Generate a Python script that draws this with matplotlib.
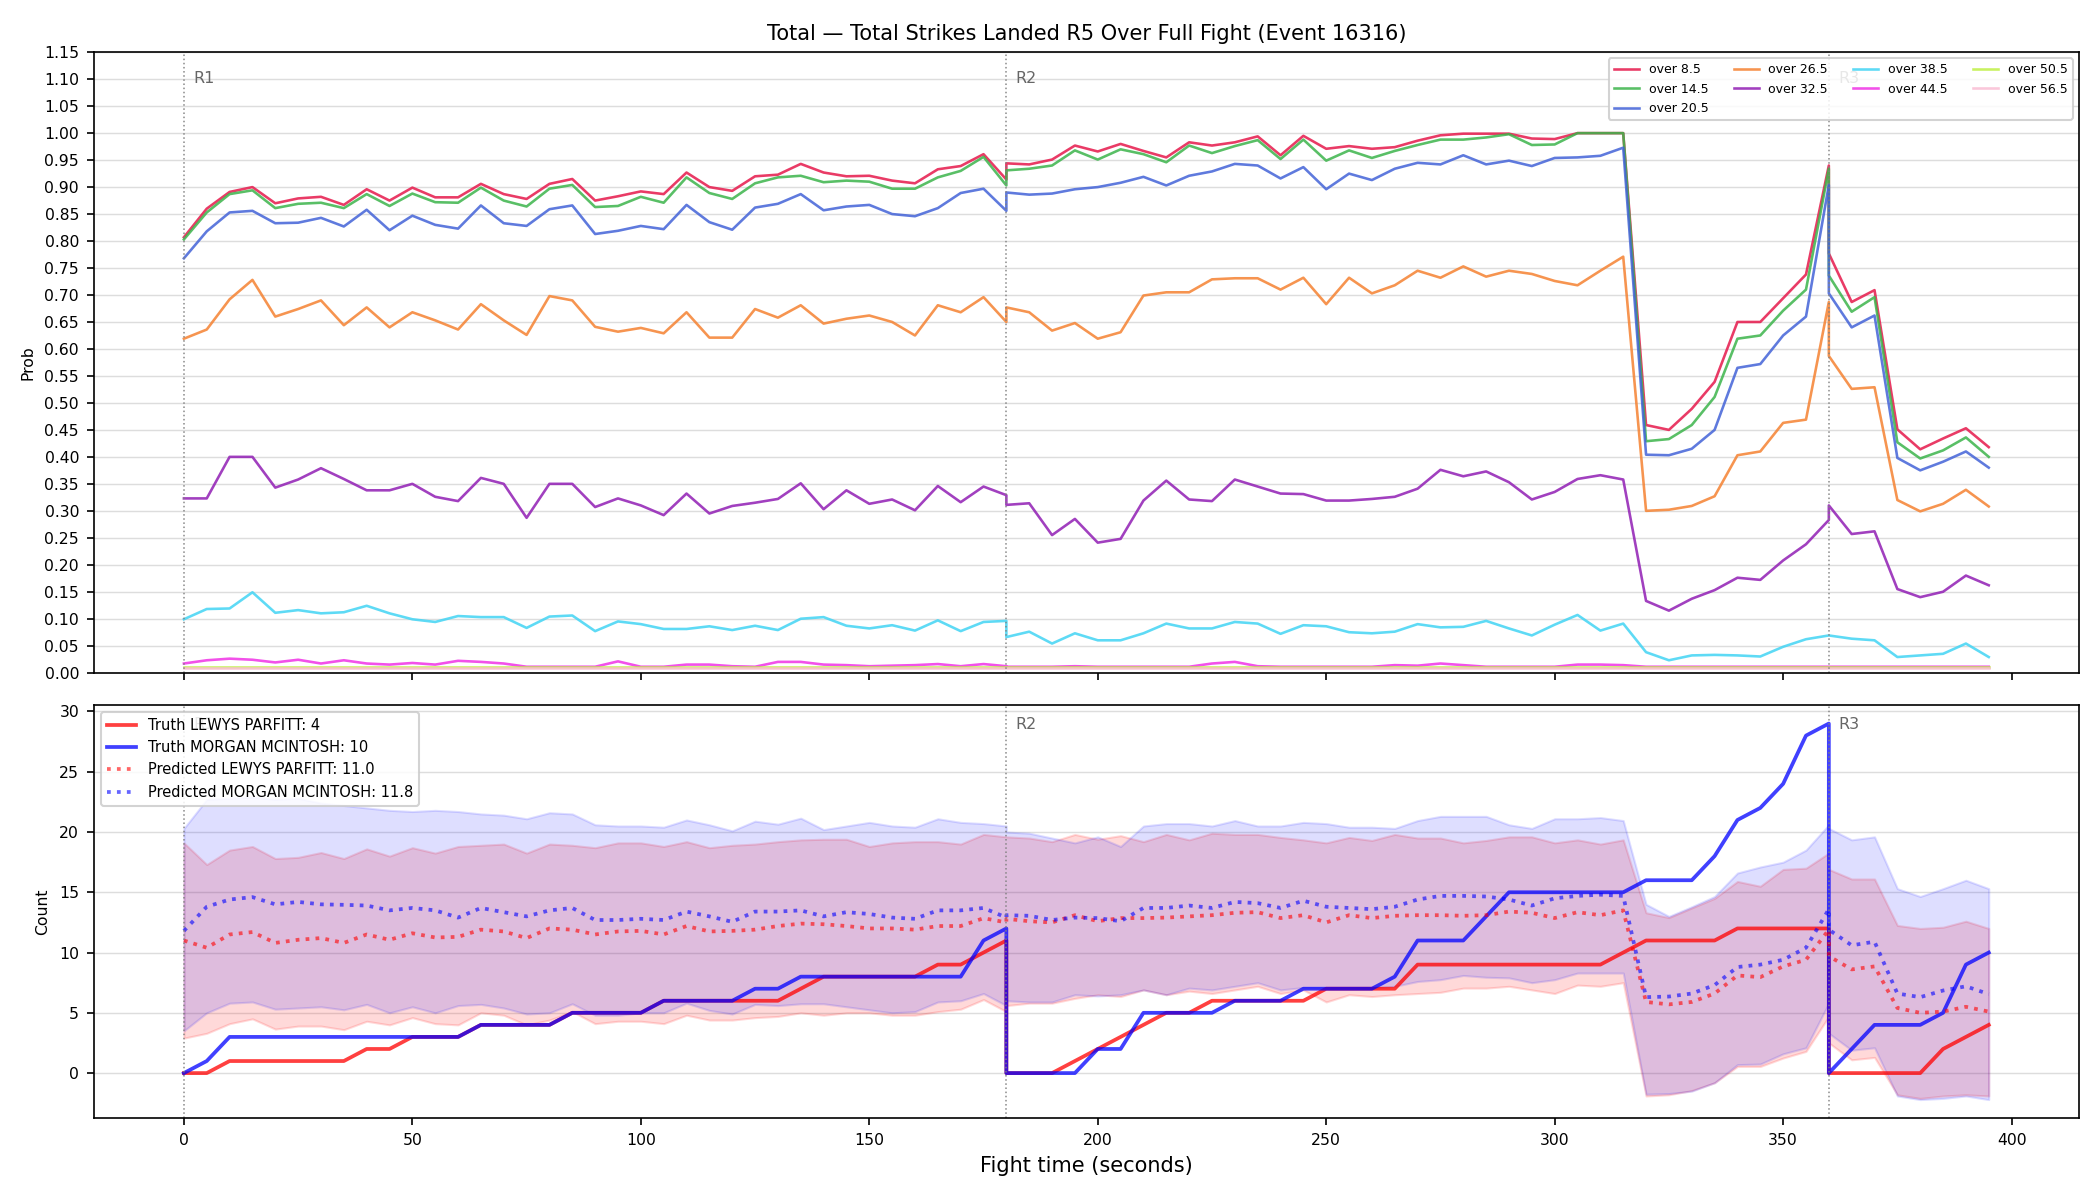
import numpy as np
import matplotlib.pyplot as plt
from matplotlib import transforms

# time grid: each round keeps its own end/start point at 180 and 360
t = list(range(0, 181, 5)) + list(range(180, 361, 5)) + list(range(360, 396, 5))
round_starts = [0, 180, 360]
round_names = ['R1', 'R2', 'R3']

# ---- top panel: P(total > line) ----
over_8_5 = [
    0.807, 0.860, 0.891, 0.900, 0.870, 0.879, 0.882, 0.867, 0.896, 0.875, 0.899, 0.881, 0.881,
    0.906, 0.887, 0.878, 0.906, 0.915, 0.875, 0.883, 0.892, 0.887, 0.927, 0.900, 0.893, 0.920,
    0.923, 0.943, 0.927, 0.920, 0.921, 0.912, 0.907, 0.933, 0.939, 0.961, 0.914,
    0.944, 0.942, 0.951, 0.977, 0.966, 0.980, 0.967, 0.955, 0.983, 0.977, 0.983, 0.994, 0.959,
    0.995, 0.971, 0.976, 0.971, 0.974, 0.986, 0.996, 0.999, 0.999, 0.999, 0.990, 0.989, 1.000,
    1.000, 1.000, 0.459, 0.450, 0.489, 0.539, 0.650, 0.650, 0.694, 0.738, 0.940,
    0.777, 0.687, 0.709, 0.451, 0.414, 0.434, 0.453, 0.418]
over_14_5 = [
    0.803, 0.853, 0.887, 0.894, 0.861, 0.869, 0.871, 0.861, 0.887, 0.865, 0.888, 0.872, 0.871,
    0.899, 0.875, 0.864, 0.897, 0.904, 0.863, 0.865, 0.882, 0.871, 0.918, 0.889, 0.878, 0.907,
    0.918, 0.921, 0.909, 0.912, 0.910, 0.897, 0.897, 0.918, 0.930, 0.956, 0.903,
    0.931, 0.934, 0.940, 0.968, 0.951, 0.970, 0.961, 0.946, 0.977, 0.963, 0.976, 0.987, 0.952,
    0.988, 0.949, 0.968, 0.954, 0.967, 0.978, 0.988, 0.988, 0.992, 0.998, 0.978, 0.979, 1.000,
    1.000, 1.000, 0.429, 0.433, 0.459, 0.511, 0.619, 0.625, 0.671, 0.710, 0.934,
    0.736, 0.669, 0.696, 0.427, 0.397, 0.412, 0.436, 0.400]
over_20_5 = [
    0.768, 0.818, 0.853, 0.856, 0.833, 0.834, 0.843, 0.827, 0.858, 0.820, 0.847, 0.830, 0.823,
    0.866, 0.833, 0.828, 0.859, 0.866, 0.813, 0.819, 0.828, 0.822, 0.867, 0.835, 0.821, 0.862,
    0.869, 0.887, 0.857, 0.864, 0.867, 0.850, 0.846, 0.861, 0.889, 0.897, 0.856,
    0.890, 0.886, 0.888, 0.896, 0.900, 0.908, 0.919, 0.903, 0.921, 0.929, 0.943, 0.940, 0.916,
    0.937, 0.896, 0.925, 0.913, 0.934, 0.945, 0.942, 0.959, 0.942, 0.949, 0.939, 0.954, 0.955,
    0.958, 0.973, 0.404, 0.403, 0.415, 0.450, 0.565, 0.572, 0.625, 0.660, 0.904,
    0.703, 0.640, 0.662, 0.398, 0.375, 0.391, 0.410, 0.380]
over_26_5 = [
    0.619, 0.636, 0.692, 0.728, 0.660, 0.674, 0.690, 0.644, 0.677, 0.640, 0.668, 0.653, 0.636,
    0.683, 0.653, 0.626, 0.698, 0.690, 0.641, 0.632, 0.639, 0.629, 0.668, 0.621, 0.621, 0.674,
    0.658, 0.681, 0.647, 0.656, 0.662, 0.650, 0.625, 0.681, 0.668, 0.696, 0.650,
    0.677, 0.668, 0.634, 0.648, 0.619, 0.631, 0.699, 0.705, 0.705, 0.729, 0.731, 0.731, 0.710,
    0.732, 0.683, 0.732, 0.703, 0.718, 0.745, 0.732, 0.753, 0.734, 0.745, 0.739, 0.726, 0.718,
    0.745, 0.771, 0.300, 0.302, 0.309, 0.327, 0.403, 0.410, 0.463, 0.469, 0.687,
    0.587, 0.526, 0.529, 0.320, 0.299, 0.313, 0.339, 0.308]
over_32_5 = [
    0.323, 0.323, 0.400, 0.400, 0.343, 0.358, 0.379, 0.359, 0.338, 0.338, 0.350, 0.326, 0.318,
    0.361, 0.350, 0.287, 0.350, 0.350, 0.307, 0.323, 0.310, 0.292, 0.332, 0.295, 0.309, 0.315,
    0.322, 0.351, 0.303, 0.338, 0.313, 0.321, 0.301, 0.346, 0.316, 0.345, 0.329,
    0.311, 0.314, 0.255, 0.285, 0.241, 0.248, 0.319, 0.356, 0.321, 0.318, 0.358, 0.345, 0.332,
    0.331, 0.319, 0.319, 0.322, 0.326, 0.341, 0.376, 0.364, 0.373, 0.353, 0.321, 0.335, 0.359,
    0.366, 0.358, 0.133, 0.115, 0.137, 0.153, 0.176, 0.172, 0.208, 0.238, 0.283,
    0.310, 0.257, 0.262, 0.155, 0.140, 0.150, 0.180, 0.162]
over_38_5 = [
    0.099, 0.118, 0.119, 0.149, 0.111, 0.116, 0.110, 0.112, 0.124, 0.110, 0.099, 0.094, 0.105,
    0.103, 0.103, 0.083, 0.104, 0.106, 0.077, 0.095, 0.090, 0.081, 0.081, 0.086, 0.079, 0.087,
    0.079, 0.100, 0.103, 0.087, 0.082, 0.088, 0.078, 0.097, 0.077, 0.094, 0.096,
    0.066, 0.076, 0.054, 0.073, 0.060, 0.060, 0.073, 0.091, 0.082, 0.082, 0.094, 0.091, 0.072,
    0.088, 0.086, 0.075, 0.073, 0.076, 0.090, 0.084, 0.085, 0.096, 0.082, 0.069, 0.089, 0.107,
    0.078, 0.091, 0.038, 0.023, 0.032, 0.033, 0.032, 0.030, 0.048, 0.062, 0.069,
    0.069, 0.063, 0.060, 0.029, 0.032, 0.035, 0.054, 0.029]
over_44_5 = [
    0.017, 0.023, 0.026, 0.024, 0.019, 0.024, 0.017, 0.023, 0.017, 0.015, 0.018, 0.015, 0.022,
    0.020, 0.017, 0.011, 0.011, 0.011, 0.011, 0.021, 0.011, 0.011, 0.015, 0.015, 0.012, 0.011,
    0.020, 0.020, 0.015, 0.014, 0.012, 0.013, 0.014, 0.016, 0.012, 0.016, 0.012,
    0.011, 0.011, 0.011, 0.012, 0.011, 0.011, 0.011, 0.011, 0.011, 0.017, 0.020, 0.012, 0.011,
    0.011, 0.011, 0.011, 0.011, 0.014, 0.013, 0.017, 0.014, 0.011, 0.011, 0.011, 0.011, 0.015,
    0.015, 0.014, 0.011, 0.011, 0.011, 0.011, 0.011, 0.011, 0.011, 0.011, 0.011,
    0.011, 0.011, 0.011, 0.011, 0.011, 0.011, 0.011, 0.011]
over_50_5 = [
    0.010, 0.010, 0.010, 0.010, 0.010, 0.010, 0.010, 0.010, 0.010, 0.010, 0.010, 0.010, 0.010,
    0.010, 0.010, 0.010, 0.010, 0.010, 0.010, 0.010, 0.010, 0.010, 0.010, 0.010, 0.010, 0.010,
    0.010, 0.010, 0.010, 0.010, 0.010, 0.010, 0.010, 0.010, 0.010, 0.010, 0.010,
    0.010, 0.010, 0.010, 0.010, 0.010, 0.010, 0.010, 0.010, 0.010, 0.010, 0.010, 0.010, 0.010,
    0.010, 0.010, 0.010, 0.010, 0.010, 0.010, 0.010, 0.010, 0.010, 0.010, 0.010, 0.010, 0.010,
    0.010, 0.010, 0.010, 0.010, 0.010, 0.010, 0.010, 0.010, 0.010, 0.010, 0.010,
    0.010, 0.010, 0.010, 0.010, 0.010, 0.010, 0.010, 0.010]
over_56_5 = [
    0.009, 0.009, 0.009, 0.009, 0.009, 0.009, 0.009, 0.009, 0.009, 0.009, 0.009, 0.009, 0.009,
    0.009, 0.009, 0.009, 0.009, 0.009, 0.009, 0.009, 0.009, 0.009, 0.009, 0.009, 0.009, 0.009,
    0.009, 0.009, 0.009, 0.009, 0.009, 0.009, 0.009, 0.009, 0.009, 0.009, 0.009,
    0.009, 0.009, 0.009, 0.009, 0.009, 0.009, 0.009, 0.009, 0.009, 0.009, 0.009, 0.009, 0.009,
    0.009, 0.009, 0.009, 0.009, 0.009, 0.009, 0.009, 0.009, 0.009, 0.009, 0.009, 0.009, 0.009,
    0.009, 0.009, 0.009, 0.009, 0.009, 0.009, 0.009, 0.009, 0.009, 0.009, 0.009,
    0.009, 0.009, 0.009, 0.009, 0.009, 0.009, 0.009, 0.009]

lines = ['8.5', '14.5', '20.5', '26.5', '32.5', '38.5', '44.5', '50.5', '56.5']
probs = [over_8_5, over_14_5, over_20_5, over_26_5, over_32_5,
         over_38_5, over_44_5, over_50_5, over_56_5]
colors = ['#e6194b', '#3cb44b', '#4363d8', '#f58231', '#911eb4',
          '#42d4f4', '#f032e6', '#bfef45', '#fabed4']

# ---- bottom panel: cumulative counts per round ----
truth_lewys = [
    0, 0, 1, 1, 1, 1, 1, 1, 2, 2, 3, 3, 3, 4, 4, 4, 4, 5, 5, 5, 5, 6, 6, 6, 6, 6, 6, 7, 8, 8,
    8, 8, 8, 9, 9, 10, 11,
    0, 0, 0, 1, 2, 3, 4, 5, 5, 6, 6, 6, 6, 6, 7, 7, 7, 7, 9, 9, 9, 9, 9, 9, 9, 9, 9, 10,
    11, 11, 11, 11, 12, 12, 12, 12, 12,
    0, 0, 0, 0, 0, 2, 3, 4]
truth_morgan = [
    0, 1, 3, 3, 3, 3, 3, 3, 3, 3, 3, 3, 3, 4, 4, 4, 4, 5, 5, 5, 5, 6, 6, 6, 6, 7, 7, 8, 8, 8,
    8, 8, 8, 8, 8, 11, 12,
    0, 0, 0, 0, 2, 2, 5, 5, 5, 5, 6, 6, 6, 7, 7, 7, 7, 8, 11, 11, 11, 13, 15, 15, 15, 15, 15, 15,
    16, 16, 16, 18, 21, 22, 24, 28, 29,
    0, 2, 4, 4, 4, 5, 9, 10]

pred_lewys = [
    11.0, 10.4, 11.5, 11.7, 10.8, 11.06, 11.2, 10.8, 11.5, 11.06, 11.6, 11.25, 11.3, 11.9, 11.75,
    11.2, 12.0, 11.9, 11.5, 11.75, 11.8, 11.5, 12.2, 11.75, 11.8, 11.9, 12.2, 12.4, 12.35, 12.2,
    12.0, 12.0, 11.9, 12.2, 12.2, 12.85, 12.5,
    12.8, 12.6, 12.5, 13.1, 12.6, 12.86, 12.86, 12.9, 13.0, 13.1, 13.3, 13.35, 12.86, 13.1, 12.5,
    13.1, 12.86, 13.05, 13.1, 13.1, 13.05, 13.1, 13.4, 13.3, 12.86, 13.35, 13.1, 13.5,
    5.9, 5.7, 5.9, 6.6, 8.1, 7.96, 8.85, 9.4, 11.9,
    9.7, 8.6, 8.85, 5.4, 5.0, 5.1, 5.5, 5.1]
pred_morgan = [
    11.8, 13.8, 14.4, 14.6, 14.0, 14.2, 14.0, 13.96, 13.9, 13.5, 13.7, 13.5, 12.9, 13.7, 13.35,
    13.0, 13.5, 13.7, 12.7, 12.7, 12.8, 12.7, 13.4, 13.0, 12.55, 13.4, 13.4, 13.5, 13.0, 13.35,
    13.2, 12.9, 12.8, 13.5, 13.5, 13.7, 12.9,
    13.1, 13.05, 12.7, 12.9, 12.86, 12.6, 13.7, 13.7, 13.9, 13.7, 14.2, 14.1, 13.7, 14.3, 13.8,
    13.7, 13.6, 13.8, 14.4, 14.7, 14.7, 14.65, 14.4, 13.9, 14.5, 14.7, 14.8, 14.7,
    6.3, 6.35, 6.6, 7.3, 8.8, 9.0, 9.4, 10.4, 13.6,
    11.9, 10.6, 10.9, 6.6, 6.3, 6.85, 7.2, 6.55]

lewys_hi = [
    19.1, 17.3, 18.5, 18.8, 17.8, 17.9, 18.3, 17.8, 18.6, 18.0, 18.7, 18.25, 18.8, 18.9, 19.0,
    18.25, 19.0, 18.9, 18.7, 19.1, 19.1, 18.8, 19.2, 18.7, 18.9, 19.0, 19.2, 19.35, 19.4, 19.4,
    18.8, 19.1, 19.2, 19.2, 19.0, 19.8, 19.6,
    19.6, 19.5, 19.2, 19.8, 19.4, 19.7, 19.2, 19.8, 19.35, 19.9, 19.8, 19.8, 19.55, 19.35, 19.1,
    19.55, 19.3, 19.8, 19.5, 19.5, 19.1, 19.3, 19.6, 19.6, 19.1, 19.35, 19.0, 19.35,
    13.3, 12.9, 13.7, 14.5, 15.9, 15.5, 16.9, 17.0, 18.25,
    16.9, 16.1, 16.1, 12.25, 12.0, 12.1, 12.6, 12.0]
lewys_lo = [
    2.9, 3.3, 4.1, 4.5, 3.65, 3.9, 3.9, 3.6, 4.3, 4.0, 4.6, 4.1, 4.0, 5.0, 4.8, 4.0, 4.4, 5.1,
    4.1, 4.3, 4.3, 4.1, 4.8, 4.4, 4.4, 4.6, 4.7, 5.0, 4.8, 5.0, 5.0, 4.8, 4.8, 5.1, 5.3, 6.1, 5.1,
    5.6, 5.8, 5.8, 6.2, 6.5, 6.35, 6.9, 6.5, 6.8, 6.6, 6.9, 7.2, 6.6, 6.9, 5.9, 6.5, 6.35, 6.5,
    6.6, 6.7, 7.05, 7.05, 7.2, 6.9, 6.6, 7.3, 7.2, 7.5,
    -1.9, -1.8, -1.45, -0.8, 0.55, 0.55, 1.25, 1.8, 4.7,
    2.5, 1.1, 1.3, -1.8, -2.1, -1.9, -1.8, -1.9]
morgan_hi = [
    20.3, 22.7, 22.8, 22.9, 22.7, 22.8, 22.4, 22.2, 22.0, 21.8, 21.7, 21.8, 21.7, 21.5, 21.4,
    21.1, 21.6, 21.5, 20.6, 20.5, 20.5, 20.4, 21.0, 20.6, 20.1, 20.9, 20.65, 21.15, 20.2, 20.5,
    20.8, 20.5, 20.4, 21.1, 20.8, 20.7, 20.5,
    20.0, 19.9, 19.5, 19.1, 19.6, 18.8, 20.5, 20.7, 20.7, 20.5, 20.95, 20.5, 20.5, 20.8, 20.7,
    20.4, 20.4, 20.3, 20.95, 21.3, 21.3, 21.3, 20.6, 20.3, 21.1, 21.1, 21.2, 20.95,
    14.0, 13.0, 13.8, 14.65, 16.6, 17.1, 17.5, 18.5, 20.6,
    20.3, 19.35, 19.6, 15.3, 14.65, 15.3, 16.0, 15.3]
morgan_lo = [
    3.5, 5.0, 5.8, 5.9, 5.3, 5.4, 5.5, 5.25, 5.7, 5.0, 5.5, 5.0, 5.6, 5.7, 5.4, 4.9, 5.0, 5.75,
    4.8, 4.8, 5.0, 5.0, 5.8, 5.2, 4.9, 5.7, 5.6, 5.75, 5.75, 5.5, 5.25, 5.0, 5.1, 5.9, 6.0, 6.6,
    5.6,
    6.0, 5.9, 5.9, 6.5, 6.4, 6.5, 6.9, 6.5, 7.05, 6.9, 7.2, 7.5, 6.9, 7.1, 7.05, 7.1, 7.05, 7.2,
    7.6, 7.75, 8.1, 7.95, 7.9, 7.5, 7.75, 8.3, 8.3, 8.3,
    -1.75, -1.7, -1.5, -0.8, 0.7, 0.75, 1.6, 2.1, 5.8,
    3.3, 1.9, 2.1, -1.9, -2.2, -2.1, -1.9, -2.2]

fig, (ax1, ax2) = plt.subplots(
    2, 1, figsize=(14, 8), dpi=150, sharex=True,
    gridspec_kw={'height_ratios': [3, 2]}
)
fig.subplots_adjust(left=0.0446, right=0.99, top=0.9565, bottom=0.068, hspace=0.062)

for name, p, c in zip(lines, probs, colors):
    ax1.plot(t, p, color=c, linewidth=1.25, alpha=0.85, label=f'over {name}')

ax1.set_ylim(0, 1.15)
ax1.set_yticks(np.arange(0, 1.151, 0.05))
ax1.set_ylabel('Prob', fontsize=7.5)
ax1.grid(axis='y', color='#dddddd', linewidth=0.7)
ax1.set_axisbelow(True)
ax1.set_title('Total — Total Strikes Landed R5 Over Full Fight (Event 16316)', fontsize=10)

# bottom
ax2.fill_between(t, lewys_lo, lewys_hi, color='red', alpha=0.15)
ax2.fill_between(t, morgan_lo, morgan_hi, color='blue', alpha=0.13)
ax2.plot(t, truth_lewys, color='red', linewidth=1.8, alpha=0.75,
         label=f'Truth LEWYS PARFITT: {truth_lewys[-1]}')
ax2.plot(t, truth_morgan, color='blue', linewidth=1.8, alpha=0.75,
         label=f'Truth MORGAN MCINTOSH: {truth_morgan[-1]}')
ax2.plot(t, pred_lewys, color='red', linestyle=':', linewidth=1.8, alpha=0.6,
         label=f'Predicted LEWYS PARFITT: {pred_lewys[0]:.1f}')
ax2.plot(t, pred_morgan, color='blue', linestyle=':', linewidth=1.8, alpha=0.6,
         label=f'Predicted MORGAN MCINTOSH: {pred_morgan[0]:.1f}')
ax2.set_ylabel('Count', fontsize=7.5)
ax2.set_xlabel('Fight time (seconds)', fontsize=10)
ax2.grid(axis='y', color='#dddddd', linewidth=0.7)
ax2.set_axisbelow(True)

for ax in (ax1, ax2):
    trans = transforms.blended_transform_factory(ax.transData, ax.transAxes)
    for x0, rn in zip(round_starts, round_names):
        ax.axvline(x0, color='gray', linestyle=':', linewidth=0.75, alpha=0.9)
        ax.text(x0 + 2, 0.97, rn, transform=trans, va='top', ha='left',
                color='#666666', fontsize=7.7)
    ax.tick_params(labelsize=7.5)

ax1.legend(loc='upper right', ncol=4, fontsize=6, framealpha=0.85)
ax2.legend(loc='upper left', fontsize=7, framealpha=0.85)

plt.savefig('out.png', dpi=150)
plt.close()
